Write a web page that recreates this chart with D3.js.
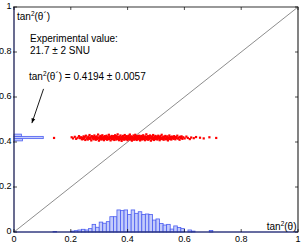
<!DOCTYPE html>
<html>
<head>
<meta charset="utf-8">
<script src="https://d3js.org/d3.v7.min.js"></script>
<style>
body{margin:0;background:#fff;}
text{font-family:"Liberation Sans",Arial,sans-serif;}
</style>
</head>
<body>
<div id="chart"></div>
<script>
// tick labels
var xTicks=[0,0.2,0.4,0.6,0.8,1];
var yTicks=[0,0.2,0.4,0.6,0.8,1];
var tickLabels=["0","0.2","0.4","0.6","0.8","1"];

// histogram of tan2(theta) (x axis), bin start and height
var xHistStart=[0.1375,0.2,0.2125,0.225,0.2375,0.25,0.2625,0.275,0.2875,0.3,0.3125,0.325,0.3375,0.35,0.3625,0.375,0.3875,0.4,0.4125,0.425,0.4375,0.45,0.4625,0.475,0.4875,0.5,0.5125,0.525,0.5375,0.55,0.5625,0.575,0.5875,0.6125,0.625,0.6875];
var xHistHeight=[0.002,0.004,0.006,0.009,0.012,0.009,0.015,0.034,0.021,0.044,0.039,0.046,0.068,0.068,0.098,0.095,0.098,0.078,0.098,0.083,0.09,0.078,0.08,0.078,0.053,0.058,0.038,0.031,0.034,0.013,0.027,0.02,0.015,0.009,0.004,0.007];
var xBinWidth=0.0125;

// histogram of tan2(theta') (y axis)
var yHistStart=[0.405,0.415,0.425];
var yHistLength=[0.03,0.103,0.026];
var yBinWidth=0.01;

// fitted points
var scatterPoints=[
[0.141,0.418],[0.203,0.421],[0.208,0.416],[0.214,0.423],[0.219,0.414],[0.224,0.419],[0.229,0.426],[0.232,0.417],[0.236,0.421],[0.239,0.412],
[0.241,0.419],[0.243,0.413],[0.245,0.425],[0.247,0.417],[0.249,0.422],[0.251,0.409],[0.253,0.428],[0.256,0.415],[0.258,0.420],[0.260,0.411],
[0.262,0.424],[0.264,0.418],[0.266,0.431],[0.268,0.414],[0.270,0.421],[0.272,0.407],[0.274,0.426],[0.276,0.416],[0.278,0.423],[0.280,0.412],
[0.281,0.419],[0.283,0.429],[0.285,0.415],[0.286,0.422],[0.288,0.410],[0.290,0.418],[0.291,0.425],[0.293,0.413],[0.295,0.420],[0.296,0.433],
[0.298,0.417],[0.299,0.406],[0.301,0.421],[0.302,0.414],[0.304,0.427],[0.305,0.419],[0.307,0.411],[0.308,0.424],[0.310,0.416],[0.311,0.430],
[0.313,0.420],[0.314,0.412],[0.316,0.423],[0.317,0.408],[0.319,0.418],[0.320,0.426],[0.322,0.414],[0.323,0.421],[0.325,0.417],[0.326,0.428],
[0.328,0.410],[0.329,0.422],[0.331,0.415],[0.332,0.419],[0.334,0.432],[0.335,0.413],[0.337,0.424],[0.338,0.418],[0.340,0.407],[0.341,0.421],
[0.343,0.416],[0.344,0.427],[0.345,0.412],[0.347,0.420],[0.348,0.425],[0.350,0.414],[0.351,0.418],[0.353,0.409],[0.354,0.423],[0.356,0.430],
[0.357,0.417],[0.358,0.421],[0.360,0.411],[0.361,0.426],[0.363,0.415],[0.364,0.419],[0.365,0.434],[0.367,0.413],[0.368,0.422],[0.370,0.408],
[0.371,0.418],[0.372,0.424],[0.374,0.416],[0.375,0.429],[0.377,0.412],[0.378,0.420],[0.379,0.405],[0.381,0.423],[0.382,0.417],[0.384,0.427],
[0.385,0.414],[0.386,0.421],[0.388,0.410],[0.389,0.419],[0.390,0.431],[0.392,0.416],[0.393,0.424],[0.395,0.412],[0.396,0.420],[0.397,0.426],
[0.399,0.415],[0.400,0.408],[0.401,0.422],[0.403,0.418],[0.404,0.428],[0.405,0.413],[0.407,0.421],[0.408,0.433],[0.410,0.417],[0.411,0.411],
[0.412,0.425],[0.414,0.419],[0.415,0.406],[0.416,0.423],[0.418,0.414],[0.419,0.420],[0.421,0.429],[0.422,0.416],[0.423,0.410],[0.425,0.424],
[0.426,0.418],[0.427,0.432],[0.429,0.413],[0.430,0.421],[0.432,0.409],[0.433,0.426],[0.434,0.417],[0.436,0.422],[0.437,0.412],[0.438,0.419],
[0.440,0.428],[0.441,0.415],[0.443,0.423],[0.444,0.407],[0.445,0.420],[0.447,0.414],[0.448,0.427],[0.450,0.418],[0.451,0.411],[0.452,0.424],
[0.454,0.416],[0.455,0.430],[0.456,0.421],[0.458,0.413],[0.459,0.419],[0.461,0.408],[0.462,0.425],[0.463,0.417],[0.465,0.422],[0.466,0.434],
[0.468,0.412],[0.469,0.420],[0.470,0.415],[0.472,0.426],[0.473,0.410],[0.475,0.418],[0.476,0.423],[0.477,0.414],[0.479,0.429],[0.480,0.419],
[0.482,0.406],[0.483,0.421],[0.485,0.416],[0.486,0.425],[0.487,0.412],[0.489,0.420],[0.490,0.431],[0.492,0.417],[0.493,0.409],[0.495,0.423],
[0.496,0.418],[0.498,0.427],[0.499,0.413],[0.501,0.421],[0.502,0.415],[0.504,0.424],[0.505,0.411],[0.507,0.419],[0.508,0.428],[0.510,0.416],
[0.511,0.422],[0.513,0.408],[0.514,0.420],[0.516,0.426],[0.517,0.414],[0.519,0.418],[0.520,0.432],[0.522,0.413],[0.524,0.421],[0.525,0.417],
[0.527,0.410],[0.528,0.424],[0.530,0.419],[0.532,0.415],[0.533,0.427],[0.535,0.412],[0.537,0.421],[0.538,0.418],[0.540,0.425],[0.542,0.407],
[0.543,0.420],[0.545,0.416],[0.547,0.429],[0.549,0.413],[0.550,0.422],[0.552,0.418],[0.554,0.411],[0.556,0.424],[0.558,0.417],[0.560,0.420],
[0.562,0.414],[0.564,0.426],[0.566,0.419],[0.568,0.412],[0.570,0.422],[0.573,0.417],[0.575,0.428],[0.578,0.415],[0.580,0.420],[0.583,0.410],
[0.585,0.423],[0.588,0.418],[0.590,0.425],[0.593,0.414],
[0.596,0.421],[0.601,0.416],[0.607,0.424],[0.612,0.418],[0.619,0.413],[0.624,0.420],[0.633,0.417],[0.641,0.422],[0.655,0.419],[0.668,0.416],[0.688,0.421],[0.712,0.418],
[0.318,0.416],[0.336,0.421],[0.352,0.426],[0.369,0.417],[0.383,0.413],[0.398,0.422],[0.413,0.418],[0.428,0.424],[0.442,0.416],[0.457,0.421],
[0.471,0.413],[0.484,0.419],[0.497,0.422],[0.512,0.417],[0.526,0.420],[0.541,0.414],[0.306,0.423],[0.327,0.413],[0.346,0.418],[0.362,0.422]
];

// annotation arrow, from text down to the y histogram
var arrowFrom=[0.104,0.636];
var arrowTo=[0.063,0.484];

var width=305, height=245;
var margin={top:7,right:7,bottom:13,left:14};
var gw=width-margin.left-margin.right;
var gh=height-margin.top-margin.bottom;

var svg=d3.select("#chart").append("svg")
	.attr("width",width)
	.attr("height",height);
var g=svg.append("g").attr("transform","translate("+margin.left+","+margin.top+")");

var x=d3.scaleLinear().domain([0,1]).range([0,gw]);
var y=d3.scaleLinear().domain([0,1]).range([gh,0]);

var histStroke="#4a5cf0", histFill="#c4ccfb";

// x histogram
g.selectAll(".xbar")
	.data(xHistStart)
	.enter().append("rect")
		.attr("x",function(d){return x(d);})
		.attr("y",function(d,i){return y(xHistHeight[i]);})
		.attr("width",x(xBinWidth)-x(0))
		.attr("height",function(d,i){return y(0)-y(xHistHeight[i]);})
		.attr("fill",histFill)
		.attr("stroke",histStroke)
		.attr("stroke-width",0.8);

// y histogram
g.selectAll(".ybar")
	.data(yHistStart)
	.enter().append("rect")
		.attr("x",x(0))
		.attr("y",function(d){return y(d+yBinWidth);})
		.attr("width",function(d,i){return x(yHistLength[i])-x(0);})
		.attr("height",y(0)-y(yBinWidth))
		.attr("fill",histFill)
		.attr("stroke",histStroke)
		.attr("stroke-width",0.8);

// diagonal
g.append("line")
	.attr("x1",x(0)).attr("y1",y(0))
	.attr("x2",x(1)).attr("y2",y(1))
	.attr("stroke","#707070")
	.attr("stroke-width",0.8);

// scatter
g.selectAll(".pt")
	.data(scatterPoints)
	.enter().append("rect")
		.attr("x",function(d){return x(d[0])-1.1;})
		.attr("y",function(d){return y(d[1])-1.1;})
		.attr("width",2.2)
		.attr("height",2.2)
		.attr("fill","#ff0000");

// frame
g.append("rect")
	.attr("x",0).attr("y",0).attr("width",gw).attr("height",gh)
	.attr("fill","none").attr("stroke","#000").attr("stroke-width",0.8);
g.append("line").attr("x1",gw).attr("x2",gw).attr("y1",0).attr("y2",gh)
	.attr("stroke","#808080").attr("stroke-width",1.8);
// histogram baselines
g.append("line").attr("x1",0).attr("x2",gw).attr("y1",gh).attr("y2",gh)
	.attr("stroke","#3540a8").attr("stroke-width",1);
g.append("line").attr("x1",0).attr("x2",0).attr("y1",0).attr("y2",gh)
	.attr("stroke","#3a4088").attr("stroke-width",1);

// ticks (inside)
var tl=3;
xTicks.forEach(function(t){
	g.append("line").attr("x1",x(t)).attr("x2",x(t)).attr("y1",gh).attr("y2",gh-tl).attr("stroke","#000").attr("stroke-width",0.7);
	g.append("line").attr("x1",x(t)).attr("x2",x(t)).attr("y1",0).attr("y2",tl).attr("stroke","#000").attr("stroke-width",0.7);
});
yTicks.forEach(function(t){
	g.append("line").attr("x1",-1).attr("x2",tl).attr("y1",y(t)).attr("y2",y(t)).attr("stroke","#000").attr("stroke-width",0.7);
	g.append("line").attr("x1",gw-tl).attr("x2",gw).attr("y1",y(t)).attr("y2",y(t)).attr("stroke","#000").attr("stroke-width",0.7);
});

// tick labels
g.selectAll(".xl")
	.data(xTicks)
	.enter().append("text")
		.attr("x",function(d){return x(d);})
		.attr("y",gh+9.5)
		.attr("text-anchor","middle")
		.attr("font-size",9)
		.text(function(d,i){return tickLabels[i];});
g.selectAll(".yl")
	.data(yTicks)
	.enter().append("text")
		.attr("x",-2.5)
		.attr("y",function(d){return y(d)+1.5;})
		.attr("text-anchor","end")
		.attr("font-size",9)
		.text(function(d,i){return tickLabels[i];});

// axis labels, drawn with superscript
function tanLabel(sel,prime){
	sel.append("tspan").text("tan");
	sel.append("tspan").attr("font-size",6.5).attr("dy",-4).text("2");
	sel.append("tspan").attr("dy",4).text(prime?"(\u03B8\u00B4)":"(\u03B8)");
}
var yLab=g.append("text").attr("x",3).attr("y",12.5).attr("font-size",10);
tanLabel(yLab,true);
var xLab=g.append("text").attr("x",gw-1.5).attr("y",gh-2).attr("font-size",10).attr("text-anchor","end");
tanLabel(xLab,false);

// annotations
g.append("text").attr("x",16).attr("y",35).attr("font-size",10).text("Experimental value:");
g.append("text").attr("x",16).attr("y",47).attr("font-size",10).text("21.7 \u00B1 2 SNU");
var ann=g.append("text").attr("x",15).attr("y",73).attr("font-size",10);
tanLabel(ann,true);
ann.append("tspan").text(" = 0.4194 \u00B1 0.0057");

// arrow
var ax1=x(arrowFrom[0]), ay1=y(arrowFrom[1]), ax2=x(arrowTo[0]), ay2=y(arrowTo[1]);
g.append("line").attr("x1",ax1).attr("y1",ay1).attr("x2",ax2).attr("y2",ay2)
	.attr("stroke","#000").attr("stroke-width",0.9);
var ang=Math.atan2(ay2-ay1,ax2-ax1), hl=5, hw=0.4;
g.append("path")
	.attr("d","M"+ax2+","+ay2+
		"L"+(ax2-hl*Math.cos(ang-hw))+","+(ay2-hl*Math.sin(ang-hw))+
		"L"+(ax2-hl*Math.cos(ang+hw))+","+(ay2-hl*Math.sin(ang+hw))+"Z")
	.attr("fill","#000");
</script>
</body>
</html>
